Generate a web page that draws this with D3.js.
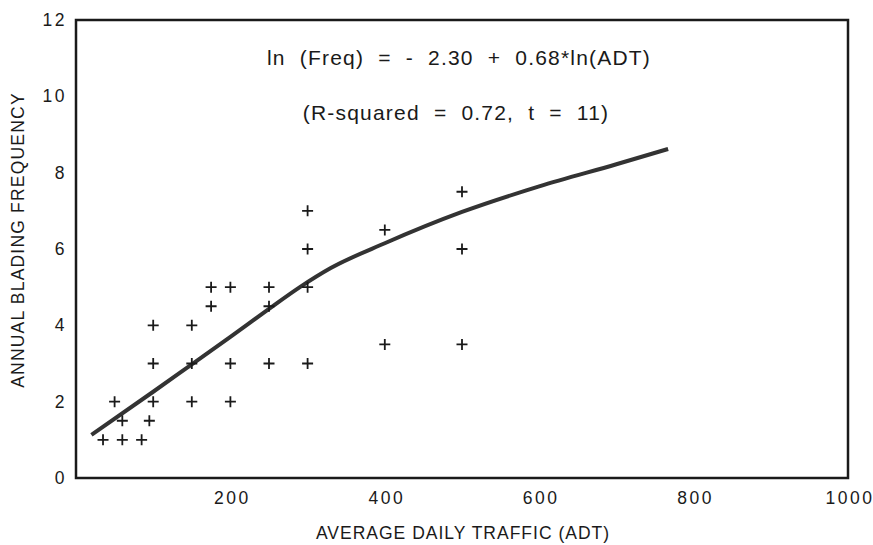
<!DOCTYPE html>
<html>
<head>
<meta charset="utf-8">
<script src="https://cdn.jsdelivr.net/npm/d3@7"></script>
<style>
  html, body { margin: 0; padding: 0; background: #fff; }
  svg { display: block; }
  text { font-family: "Liberation Sans", Arial, Helvetica, sans-serif; fill: #1a1a1a; }
</style>
</head>
<body>
<svg id="chart" width="873" height="545"></svg>
<script>
// Observed data points (ADT, annual blading frequency)
const adt = [35, 60, 85, 60, 95, 50, 100, 150, 200, 100, 150, 200, 250, 300, 100, 150, 175, 250, 175, 200, 250, 300, 300, 300, 400, 400, 500, 500, 500];
const freq = [1, 1, 1, 1.5, 1.5, 2, 2, 2, 2, 3, 3, 3, 3, 3, 4, 4, 4.5, 4.5, 5, 5, 5, 5, 6, 7, 6.5, 3.5, 7.5, 6, 3.5];

// Fitted curve as drawn on the figure
const curveADT = [20, 100, 150, 200, 250, 290, 330, 400, 500, 600, 700, 767];
const curveFreq = [1.13, 2.26, 2.98, 3.70, 4.43, 5.0, 5.5, 6.15, 6.97, 7.64, 8.22, 8.62];

const xTicks = [200, 400, 600, 800, 1000];
const yTicks = [0, 2, 4, 6, 8, 10, 12];

const equationLines = ["ln  (Freq)  =  -  2.30  +  0.68*ln(ADT)", "(R-squared  =  0.72,  t  =  11)"];
const xTitle = "AVERAGE DAILY TRAFFIC (ADT)";
const yTitle = "ANNUAL BLADING FREQUENCY";

const svg = d3.select("#chart");
const margin = { left: 76, right: 25, top: 20, bottom: 67 };
const W = 873, H = 545;
const x = d3.scaleLinear().domain([0, 1000]).range([margin.left, W - margin.right]);
const y = d3.scaleLinear().domain([0, 12]).range([H - margin.bottom, margin.top]);

// Frame
svg.append("rect")
  .attr("x", x(0)).attr("y", y(12))
  .attr("width", x(1000) - x(0)).attr("height", y(0) - y(12))
  .attr("fill", "none").attr("stroke", "#1a1a1a").attr("stroke-width", 2.5);

// Y tick labels
svg.append("g").selectAll("text").data(yTicks).join("text")
  .attr("x", x(0) - 9)
  .attr("y", d => y(d))
  .attr("dy", "0.35em")
  .attr("text-anchor", "end")
  .attr("font-size", 17.5)
  .attr("letter-spacing", "2.5px")
  .text(d => d);

// X tick labels
svg.append("g").selectAll("text").data(xTicks).join("text")
  .attr("x", d => x(d) + 2)
  .attr("y", y(0) + 20)
  .attr("dy", "0.35em")
  .attr("text-anchor", "middle")
  .attr("font-size", 17.5)
  .attr("letter-spacing", "2.5px")
  .text(d => d);

// Axis titles
svg.append("text")
  .attr("x", 463).attr("y", 533).attr("dy", "0.35em")
  .attr("text-anchor", "middle").attr("font-size", 17.5)
  .attr("letter-spacing", "1px")
  .text(xTitle);

svg.append("text")
  .attr("transform", `translate(18, 240) rotate(-90)`)
  .attr("dy", "0.35em")
  .attr("text-anchor", "middle").attr("font-size", 17.5)
  .attr("letter-spacing", "1.2px")
  .text(yTitle);

// Equation
svg.append("g").selectAll("text").data(equationLines).join("text")
  .attr("x", (d, i) => i === 0 ? 459 : 456)
  .attr("y", (d, i) => i === 0 ? 58 : 113)
  .attr("dy", "0.35em")
  .attr("text-anchor", "middle")
  .attr("font-size", 21)
  .attr("letter-spacing", "1.2px")
  .style("white-space", "pre")
  .text(d => d);

// Fitted curve
const line = d3.line().x(d => x(d[0])).y(d => y(d[1])).curve(d3.curveMonotoneX);
svg.append("path")
  .datum(curveADT.map((a, i) => [a, curveFreq[i]]))
  .attr("d", line)
  .attr("fill", "none")
  .attr("stroke", "#333")
  .attr("stroke-width", 4)
  .attr("stroke-linecap", "butt");

// Points as plus marks
const s = 5.5;
svg.append("g").selectAll("path").data(adt.map((a, i) => [a, freq[i]])).join("path")
  .attr("d", d => `M${x(d[0]) - s},${y(d[1])}H${x(d[0]) + s}M${x(d[0])},${y(d[1]) - s}V${y(d[1]) + s}`)
  .attr("stroke", "#1a1a1a")
  .attr("stroke-width", 1.8)
  .attr("fill", "none");
</script>
</body>
</html>
